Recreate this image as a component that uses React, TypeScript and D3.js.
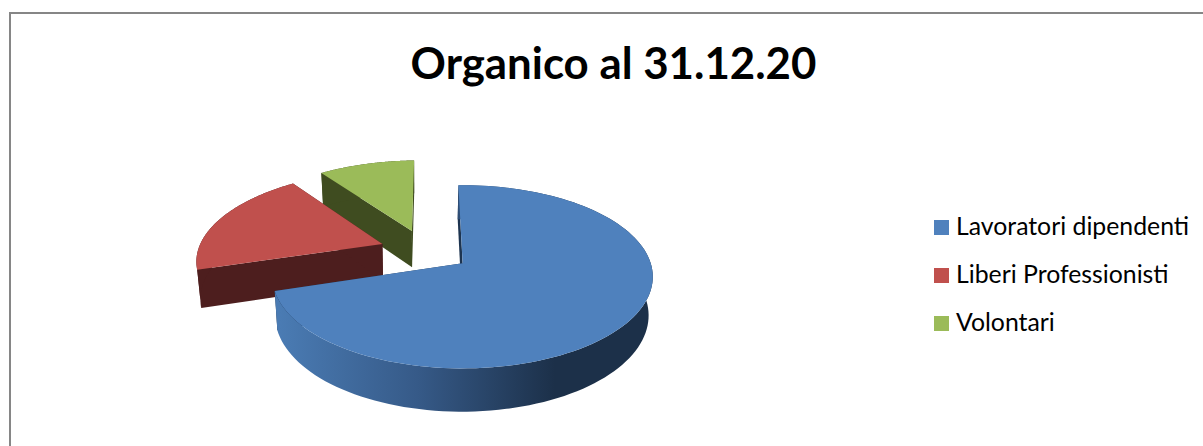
import * as d3 from "d3";

const categories = ["Lavoratori dipendenti", "Liberi Professionisti", "Volontari"];
const values = [65, 18, 9];
const topColors = ["#4f81bd", "#c0504d", "#9bbb59"];
const wallColors = ["#1d3450", "#4d1e1e", "#3f4c20"];
const title = "Organico al 31.12.20";

const WIDTH = 1203;
const HEIGHT = 446;

// perspective of the disc plane, all in px around the blue slice's apex
const CX = 463;
const CY = 263;
const R = 188;
const K = 89.5;
const P = 0.1475;
const EXPLODE = 0.25;
const CENTER = [-0.205, -0.1425];

const topPoint = (u: number, v: number): [number, number] => {
  const w = 1 - P * v;
  return [CX + (u * R) / w, CY + (K * v) / w];
};

// bottom face is the same shape a bit lower and squeezed towards x = 420
const bottomPoint = (u: number, v: number): [number, number] => {
  const [x, y] = topPoint(u, v);
  return [x - (x - 420) * 0.018, CY + 38 + (y - CY) * 1.05];
};

const pie = d3
  .pie<number>()
  .sort(null)
  .startAngle((-1.5 * Math.PI) / 180)
  .endAngle(((360 - 1.5) * Math.PI) / 180);

const slices = pie(values).map((d) => {
  const mid = (d.startAngle + d.endAngle) / 2;
  const ax = CENTER[0] + EXPLODE * Math.sin(mid);
  const ay = CENTER[1] - EXPLODE * Math.cos(mid);
  const at = (a: number): [number, number] => [ax + Math.sin(a), ay - Math.cos(a)];
  const angles = d3.range(0, 121).map((i) => d.startAngle + ((d.endAngle - d.startAngle) * i) / 120);
  return { index: d.index, apex: [ax, ay] as [number, number], rim: angles.map(at) };
});

const line = d3.line();

export default function App() {
  const legendY = d3.scalePoint<string>().domain(categories).range([228, 324]);
  // draw back to front
  const order = [2, 1, 0];

  return (
    <svg
      width={WIDTH}
      height={HEIGHT}
      style={{ position: "absolute", left: 0, top: 0, background: "#fff" }}
    >
      <defs>
        <linearGradient id="blueWall" gradientUnits="userSpaceOnUse" x1={280} x2={555} y1={0} y2={0}>
          <stop offset="0" stopColor="#4a7bb3" />
          <stop offset="0.5" stopColor="#365a88" />
          <stop offset="1" stopColor="#1c3049" />
        </linearGradient>
      </defs>
      <path d="M10,446V13H1203" fill="none" stroke="#868686" strokeWidth={2} />
      <text
        x={613.5}
        y={79}
        textAnchor="middle"
        fontFamily="Lato"
        fontWeight={700}
        fontSize={43.8}
        fill="#000"
      >
        {title}
      </text>

      {order.map((i) => {
        const s = slices[i];
        const rimTop = s.rim.map(([u, v]) => topPoint(u, v));
        const rimBottom = s.rim.map(([u, v]) => bottomPoint(u, v));
        const apexTop = topPoint(s.apex[0], s.apex[1]);
        const apexBottom = bottomPoint(s.apex[0], s.apex[1]);
        const last = rimTop.length - 1;
        const wallFill = i === 0 ? "url(#blueWall)" : wallColors[i];
        return (
          <g key={categories[i]}>
            <path
              d={line([apexTop, rimTop[0], rimBottom[0], apexBottom])! + "Z"}
              fill={wallColors[i]}
            />
            <path
              d={line([apexTop, rimTop[last], rimBottom[last], apexBottom])! + "Z"}
              fill={wallColors[i]}
            />
            <path d={line([...rimTop, ...rimBottom.slice().reverse()])! + "Z"} fill={wallFill} />
            <path d={line([apexTop, ...rimTop])! + "Z"} fill={topColors[i]} />
          </g>
        );
      })}

      {categories.map((c, i) => (
        <g key={c}>
          <rect x={934} y={legendY(c)! - 8} width={15} height={15} fill={topColors[i]} />
          <text x={956} y={legendY(c)! + 7} fontFamily="Lato" fontSize={24.8} fill="#000">
            {c}
          </text>
        </g>
      ))}
    </svg>
  );
}
